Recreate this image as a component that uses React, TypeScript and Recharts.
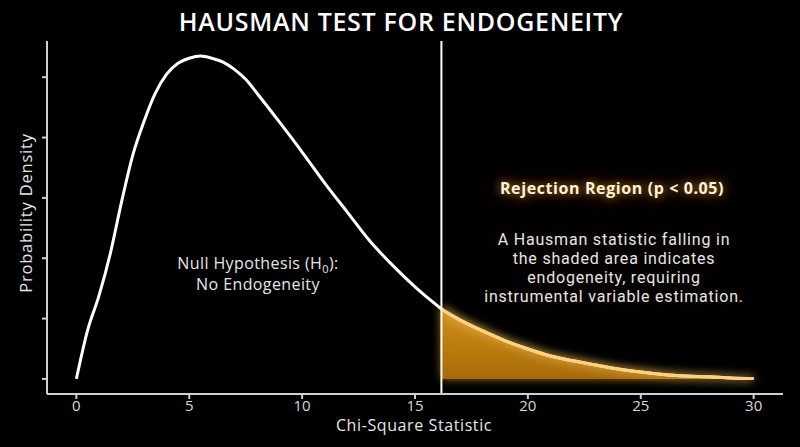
import {
  ComposedChart,
  Line,
  Area,
  XAxis,
  YAxis,
  ReferenceLine,
} from "recharts";

// chi-square density
const chiX = [
  0, 0.5, 1, 1.5, 2, 2.5, 3, 3.5, 4, 4.5, 5, 5.5, 6, 6.5, 7, 7.5, 8, 9, 10, 11,
  12, 13, 14, 15, 16, 16.17, 17, 18, 19, 20, 21, 22, 23, 24, 25, 26, 27, 28, 29,
  30,
];
const density = [
  0, 0.0162, 0.0275, 0.0414, 0.0586, 0.0742, 0.0854, 0.0947, 0.101, 0.1046,
  0.1063, 0.107, 0.1063, 0.105, 0.1026, 0.0993, 0.0947, 0.0851, 0.0752, 0.0649,
  0.0553, 0.0457, 0.0377, 0.0305, 0.0242, 0.0232, 0.0195, 0.0159, 0.0126,
  0.0099, 0.0076, 0.006, 0.0046, 0.0033, 0.0023, 0.0015, 0.001, 0.0007, 0.0003,
  0.0001,
];
const criticalValue = 16.17;
const xTicks = [0, 5, 10, 15, 20, 25, 30];
const yTicks = [0, 0.02, 0.04, 0.06, 0.08, 0.1];
const noteLines = [
  "A Hausman statistic falling in",
  "the shaded area indicates",
  "endogeneity, requiring",
  "instrumental variable estimation.",
];

const chartData = chiX.map((x, i) => ({
  x,
  density: density[i],
  tail: x >= criticalValue ? density[i] : null,
}));

const font = "'Open Sans', 'Noto Sans', sans-serif";

const textStyle = (left: number, top: number, extra = {}) => ({
  position: "absolute" as const,
  left,
  top,
  transform: "translate(-50%, -50%)",
  whiteSpace: "nowrap" as const,
  textAlign: "center" as const,
  fontFamily: font,
  color: "#e6e6e6",
  ...extra,
});

export default function App() {
  return (
    <div
      style={{
        position: "fixed",
        left: 0,
        top: 0,
        width: 800,
        height: 447,
        background: "#000",
        overflow: "hidden",
      }}
    >
      <ComposedChart
        width={800}
        height={447}
        data={chartData}
        margin={{ top: 41, right: 17, bottom: 23, left: 17 }}
      >
        <defs>
          <linearGradient id="tailFill" x1="0" y1="0" x2="0" y2="1">
            <stop offset="0%" stopColor="#d39018" stopOpacity={0.95} />
            <stop offset="100%" stopColor="#a86c08" stopOpacity={0.95} />
          </linearGradient>
          <filter id="glow" x="-20%" y="-40%" width="140%" height="180%">
            <feGaussianBlur stdDeviation="5" result="blur" />
            <feMerge>
              <feMergeNode in="blur" />
              <feMergeNode in="SourceGraphic" />
            </feMerge>
          </filter>
        </defs>
        <XAxis
          dataKey="x"
          type="number"
          domain={[-1.3, 31.3]}
          ticks={xTicks}
          allowDataOverflow
          height={30}
          tickSize={5}
          tickMargin={1}
          stroke="#cfcfcf"
          strokeWidth={2}
          tick={{ fill: "#d8d8d8", fontSize: 15, fontFamily: font }}
        />
        <YAxis
          type="number"
          domain={[-0.005, 0.112]}
          ticks={yTicks}
          allowDataOverflow
          width={30}
          tickSize={5}
          stroke="#cfcfcf"
          strokeWidth={2}
          tickFormatter={() => ""}
        />
        <Area
          dataKey="tail"
          type="monotone"
          stroke="none"
          fill="url(#tailFill)"
          fillOpacity={1}
          baseValue={0}
          filter="url(#glow)"
          isAnimationActive={false}
        />
        <Line
          dataKey="density"
          type="monotone"
          stroke="#ffffff"
          strokeWidth={3}
          dot={false}
          isAnimationActive={false}
        />
        <Line
          dataKey="tail"
          type="monotone"
          stroke="#ffd27a"
          strokeWidth={3}
          dot={false}
          filter="url(#glow)"
          isAnimationActive={false}
        />
        <ReferenceLine
          x={criticalValue}
          stroke="#ffffff"
          strokeWidth={2}
          ifOverflow="extendDomain"
        />
      </ComposedChart>

      <div
        style={textStyle(401, 21, {
          fontSize: 25,
          fontWeight: 600,
          letterSpacing: 0.7,
          color: "#fff",
        })}
      >
        HAUSMAN TEST FOR ENDOGENEITY
      </div>
      <div style={textStyle(414, 425, { fontSize: 16, letterSpacing: 0.6 })}>
        Chi-Square Statistic
      </div>
      <div
        style={textStyle(25, 213, {
          fontSize: 16.5,
          letterSpacing: 0.8,
          transform: "translate(-50%, -50%) rotate(-90deg)",
        })}
      >
        Probability Density
      </div>
      <div style={textStyle(258, 264, { fontSize: 16, letterSpacing: 0.4, lineHeight: "20px" })}>
        Null Hypothesis (H
        <span style={{ fontSize: 11, position: "relative", top: 4 }}>0</span>):
      </div>
      <div style={textStyle(258, 284, { fontSize: 16, letterSpacing: 0.4, lineHeight: "20px" })}>
        No Endogeneity
      </div>
      <div
        style={textStyle(612, 188, {
          fontSize: 16,
          fontWeight: 700,
          letterSpacing: 0.6,
          color: "#fff4dc",
          textShadow: "0 0 10px rgba(255,170,40,0.8), 0 0 24px rgba(255,150,20,0.5)",
        })}
      >
        Rejection Region (p &lt; 0.05)
      </div>
      {noteLines.map((line, i) => (
        <div
          key={line}
          style={textStyle(614, 240 + i * 19, {
            fontFamily: "Roboto, 'Open Sans', sans-serif",
            fontSize: 16,
            letterSpacing: 0.8,
            lineHeight: "18px",
            textShadow: "0 0 18px rgba(255,150,20,0.25)",
          })}
        >
          {line}
        </div>
      ))}
    </div>
  );
}
